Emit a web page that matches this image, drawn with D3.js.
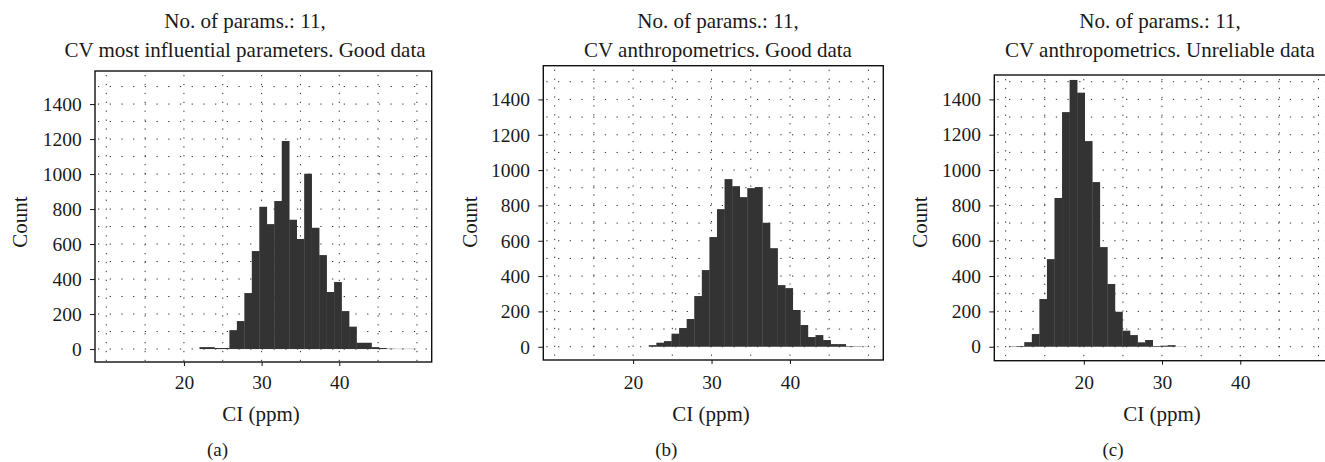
<!DOCTYPE html>
<html>
<head>
<meta charset="utf-8">
<script src="https://cdn.jsdelivr.net/npm/d3@7"></script>
<style>
  body { margin: 0; background: #fff; }
  svg text { font-family: "Liberation Serif", serif; fill: #1a1a1a; }
</style>
</head>
<body>
<svg id="chart" width="1325" height="462"></svg>
<script>
// histogram counts per bin
var countsA = [11, 11, 6, 6, 108, 160, 320, 560, 813, 714, 846, 1189, 739, 629, 1002,
               693, 537, 326, 383, 217, 128, 36, 36, 11, 6, 2, 1, 1, 1];
var countsB = [9, 23, 32, 74, 106, 157, 287, 434, 621, 779, 949, 909, 847, 898, 904,
               702, 558, 349, 332, 208, 123, 55, 66, 38, 15, 15, 3, 2, 1];
var countsC = [2, 4, 26, 72, 270, 496, 842, 1328, 1510, 1438, 1164, 932, 564, 355, 198,
               91, 66, 25, 38, 4, 6, 9, 1];

// left edge of first bin and bin width, CI (ppm)
var binStarts = [22.0, 22.0, 10.45];
var binWidths = [0.963, 0.966, 0.966];

var titleLine1 = ['No. of params.: 11,', 'No. of params.: 11,', 'No. of params.: 11,'];
var titleLine2 = ['CV most influential parameters. Good data',
                  'CV anthropometrics. Good data',
                  'CV anthropometrics. Unreliable data'];
var panelTags = ['(a)', '(b)', '(c)'];

var yTicks = [0, 200, 400, 600, 800, 1000, 1200, 1400];
var xTicks = [20, 30, 40];
var xGrid = [10, 15, 20, 25, 30, 35, 40, 45, 50];
var yGrid = [0, 100, 200, 300, 400, 500, 600, 700, 800, 900, 1000, 1100, 1200, 1300, 1400, 1500];

var xDomain = [8.55, 51.9];

// panel boxes on the page
var layout = [
    {left: 95,    top: 71,   w: 336.7, h: 291,   yDom: [-74, 1589], titleX: 245,  countX: 27,    ciX: 261,  tagX: 217.5},
    {left: 543.3, top: 65.7, w: 340,   h: 294.3, yDom: [-75, 1591], titleX: 718,  countX: 476.7, ciX: 711,  tagX: 666.3},
    {left: 994.3, top: 75,   w: 339,   h: 285.7, yDom: [-79, 1538], titleX: 1160, countX: 926.7, ciX: 1162, tagX: 1113}
];

var tickSize = 19.5;
var svg = d3.select('#chart');
var allCounts = [countsA, countsB, countsC];

layout.forEach(function (p, k) {
    drawPanel(p, allCounts[k], binStarts[k], binWidths[k], k);
});

function drawPanel(p, counts, start, bw, k) {
    var x = d3.scaleLinear().domain(xDomain).range([p.left, p.left + p.w]);
    var y = d3.scaleLinear().domain(p.yDom).range([p.top + p.h, p.top]);
    var g = svg.append('g');

    // dotted grid
    g.selectAll('.hgrid')
        .data(yGrid)
        .enter()
        .append('line')
            .attr('x1', p.left + 3)
            .attr('x2', p.left + p.w)
            .attr('y1', function (d) { return y(d); })
            .attr('y2', function (d) { return y(d); })
            .attr('stroke', '#333')
            .attr('stroke-width', 1)
            .attr('stroke-dasharray', '1.3,10.4');
    g.selectAll('.vgrid')
        .data(xGrid)
        .enter()
        .append('line')
            .attr('x1', function (d) { return x(d); })
            .attr('x2', function (d) { return x(d); })
            .attr('y1', p.top + 4)
            .attr('y2', p.top + p.h)
            .attr('stroke', '#333')
            .attr('stroke-width', 1)
            .attr('stroke-dasharray', '1.3,7.6');

    // bars
    g.selectAll('.bar')
        .data(counts)
        .enter()
        .append('rect')
            .attr('x', function (d, i) { return x(start + i * bw); })
            .attr('width', function (d, i) { return x(start + (i + 1) * bw) - x(start + i * bw) + 0.3; })
            .attr('y', function (d) { return y(d); })
            .attr('height', function (d) { return y(0) - y(d); })
            .attr('fill', '#333333');

    // frame
    g.append('rect')
        .attr('x', p.left)
        .attr('y', p.top)
        .attr('width', p.w)
        .attr('height', p.h)
        .attr('fill', 'none')
        .attr('stroke', '#111')
        .attr('stroke-width', 1.4);

    // axes
    var yAxis = g.append('g')
        .attr('transform', 'translate(' + p.left + ',0)')
        .call(d3.axisLeft(y).tickValues(yTicks).tickFormat(d3.format('d'))
            .tickSize(5).tickPadding(8.3));
    var xAxis = g.append('g')
        .attr('transform', 'translate(0,' + (p.top + p.h) + ')')
        .call(d3.axisBottom(x).tickValues(xTicks).tickFormat(d3.format('d'))
            .tickSize(4).tickPadding(389 - 0.71 * tickSize - 4 - (p.top + p.h)));
    [yAxis, xAxis].forEach(function (a) {
        a.select('.domain').remove();
        a.attr('font-family', null).attr('font-size', tickSize);
        a.selectAll('line').attr('stroke', '#111');
        a.selectAll('text').attr('fill', '#1a1a1a');
    });

    // titles
    g.append('text')
        .attr('x', p.titleX)
        .attr('y', 28)
        .attr('text-anchor', 'middle')
        .attr('font-size', 21)
        .text(titleLine1[k]);
    g.append('text')
        .attr('x', p.titleX)
        .attr('y', 57)
        .attr('text-anchor', 'middle')
        .attr('font-size', 21)
        .text(titleLine2[k]);

    g.append('text')
        .attr('transform', 'translate(' + p.countX + ',222) rotate(-90)')
        .attr('text-anchor', 'middle')
        .attr('font-size', 21)
        .text('Count');

    g.append('text')
        .attr('x', p.ciX)
        .attr('y', 421)
        .attr('text-anchor', 'middle')
        .attr('font-size', 21)
        .text('CI (ppm)');

    g.append('text')
        .attr('x', p.tagX)
        .attr('y', 456)
        .attr('text-anchor', 'middle')
        .attr('font-size', 19)
        .text(panelTags[k]);
}
</script>
</body>
</html>
